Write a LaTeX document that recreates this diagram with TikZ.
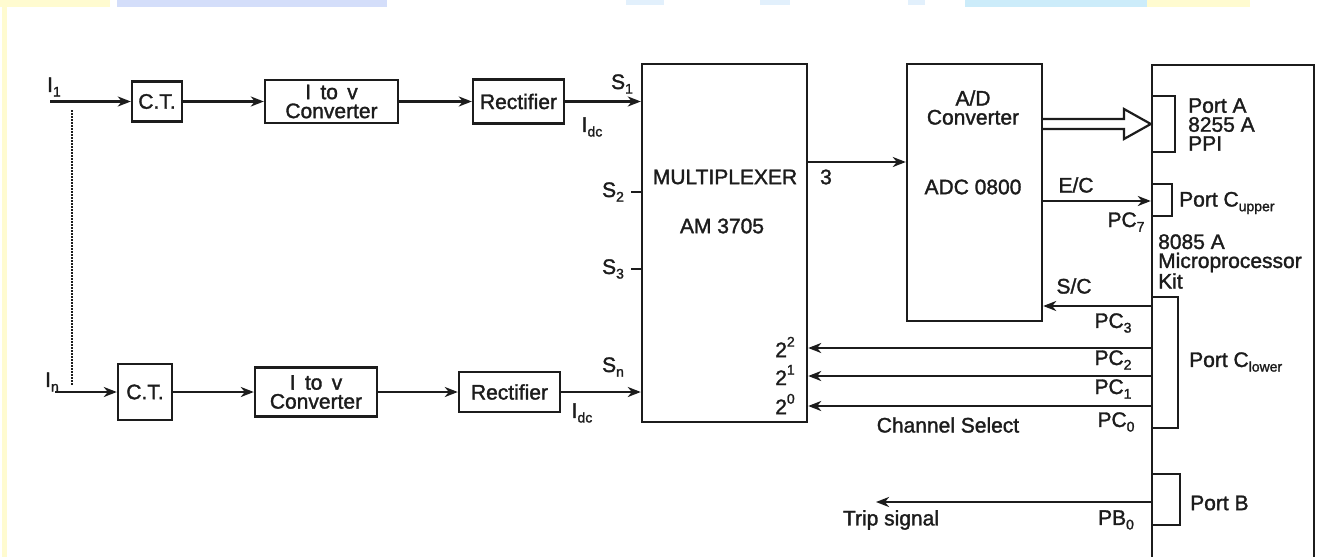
\documentclass[tikz,border=0pt]{standalone}
\usepackage{fontspec}
\setmainfont{Liberation Sans}[FakeBold=1.5]
\usetikzlibrary{arrows.meta}
\newcommand\lsub[1]{\raisebox{-0.22em}{\fontsize{14}{14}\selectfont #1}}
\newcommand\lsup[1]{\raisebox{0.5em}{\fontsize{14}{14}\selectfont #1}}
\definecolor{ink}{RGB}{28,28,28}
\definecolor{bandY}{RGB}{255,251,208}
\definecolor{bandB}{RGB}{212,222,250}
\definecolor{bandC}{RGB}{204,236,250}
\definecolor{bandL}{RGB}{226,240,252}
\tikzset{
  every node/.style={font=\fontsize{21}{19}\selectfont, text=ink, inner sep=0pt},
  blk/.style={draw=ink, line width=2.4pt, align=center},
  lbl/.style={align=left, anchor=west},
  arr/.style={draw=ink, line width=2.6pt, -{Stealth[length=13pt,width=10pt,inset=4pt]}},
  wire/.style={draw=ink, line width=2.4pt},
  brk/.style={draw=ink, line width=2.4pt},
}
\begin{document}
\begin{tikzpicture}[x=1pt,y=-1pt]
\useasboundingbox (0,0) rectangle (1318,557);
\fill[white] (0,0) rectangle (1318,557);
% decorative page band
\fill[bandY] (0,0) rectangle (110,7);
\fill[bandB] (117,0) rectangle (387,7);
\fill[bandL] (626,0) rectangle (664,5);
\fill[bandL] (760,0) rectangle (790,5);
\fill[bandL] (908,0) rectangle (925,5);
\fill[bandC] (965,0) rectangle (1147,7);
\fill[bandY] (1147,0) rectangle (1250,7);
\fill[bandY] (2,0) rectangle (7,557);

% ---- blocks ----
\node[blk, minimum width=50, minimum height=40] (ct1) at (157,101.5) {C.T.};
\node[blk, minimum width=133, minimum height=43] (iv1) at (331.5,101.5) {I\, to\, v\\Converter};
\node[blk, minimum width=91, minimum height=44] (rec1) at (518.5,101.5) {Rectifier};
\node[blk, minimum width=54, minimum height=56] (ct2) at (145,392) {C.T.};
\node[blk, minimum width=122, minimum height=49] (iv2) at (316,392) {I\, to\, v\\Converter};
\node[blk, minimum width=101, minimum height=40] (rec2) at (509.5,392) {Rectifier};
\node[blk, minimum width=165, minimum height=358] (mux) at (724.5,243) {};
\node[blk, minimum width=135, minimum height=257] (adc) at (974.5,192.5) {};
\node[blk, minimum width=162, minimum height=500] (micro) at (1233,315) {};

% ---- texts inside blocks ----
\node (muxA) at (725,177) {MULTIPLEXER};
\node (muxB) at (722,226) {AM 3705};
\node[align=center] (adcA) at (973,107.5) {A/D\\Converter};
\node (adcB) at (973,187) {ADC 0800};
\node[lbl] (portA) at (1188,124.5) {Port A\\8255 A\\PPI};
\node[lbl] (portCu) at (1179,203) {Port C\lsub{upper}};
\node[lbl] (kit) at (1158,261.5) {8085 A\\Microprocessor\\Kit};
\node[lbl] (portCl) at (1189,362) {Port C\lsub{lower}};
\node[lbl] (portB) at (1190,503) {Port B};

% ---- free-end coordinates ----
\coordinate (in1) at (50,101.5);
\coordinate (inn) at (55,392);
\coordinate (dotT) at (72,110);
\coordinate (dotB) at (72,385);
\coordinate (trip) at (876,502);
\coordinate (yS2) at (0,192);
\coordinate (yS3) at (0,269);
\coordinate (y3) at (0,162);
\coordinate (yEC) at (0,201);
\coordinate (ySC) at (0,306);
\coordinate (yP2) at (0,348);
\coordinate (yP1) at (0,376);
\coordinate (yP0) at (0,406);
\coordinate (yPB) at (0,502);
\coordinate (hA1) at (0,119);
\coordinate (hA2) at (0,129);

% ---- channel rows ----
\draw[arr] (in1) -- (ct1.west);
\draw[arr] (ct1.east) -- (ct1.east -| iv1.west);
\draw[arr] (iv1.east) -- (iv1.east -| rec1.west);
\draw[arr] (rec1.east) -- (rec1.east -| mux.west);
\draw[arr] (inn) -- (ct2.west);
\draw[arr] (ct2.east) -- (ct2.east -| iv2.west);
\draw[arr] (iv2.east) -- (iv2.east -| rec2.west);
\draw[arr] (rec2.east) -- (rec2.east -| mux.west);
\draw[ink, line width=1.8pt, dash pattern=on 1.6pt off 1.4pt] (dotT) -- (dotB);

% ---- labels of rows ----
\node (lI1) at (54,87) {I\lsub{1}};
\node (lIn) at (52,382) {I\lsub{n}};
\node (lS1) at (622,84) {S\lsub{1}};
\node (lIdc1) at (592,127) {I\lsub{dc}};
\node (lS2) at (613,192) {S\lsub{2}};
\node (lS3) at (613,269) {S\lsub{3}};
\node (lSn) at (613,367) {S\lsub{n}};
\node (lIdc2) at (582,413) {I\lsub{dc}};
\draw[wire] (mux.west |- yS2) -- ++(-10,0);
\draw[wire] (mux.west |- yS3) -- ++(-10,0);

% ---- mux to adc ----
\draw[arr] (mux.east |- y3) -- (adc.west |- y3);
\node (l3) at (826,177) {3};

% ---- hollow data arrow ----
\draw[ink, line width=2.2pt, line join=miter] (adc.east |- hA1) -- (1124,119) -- (1124,109) -- (micro.west |- 0,124) -- (1124,139) -- (1124,129) -- (adc.east |- hA2);

% ---- port brackets ----
\draw[brk] (1152,96) -- (1175,96) -- (1175,152) -- (1152,152);
\draw[brk] (1152,184) -- (1172,184) -- (1172,216) -- (1152,216);
\draw[brk] (1152,297) -- (1178,297) -- (1178,428) -- (1152,428);
\draw[brk] (1152,474) -- (1180,474) -- (1180,525) -- (1152,525);

% ---- control lines ----
\draw[arr] (adc.east |- yEC) -- (micro.west |- yEC);
\node (lEC) at (1076,185) {E/C};
\node (lPC7) at (1126,222) {PC\lsub{7}};
\draw[arr] (micro.west |- ySC) -- (adc.east |- ySC);
\node (lSC) at (1074,286) {S/C};
\node (lPC3) at (1113,323) {PC\lsub{3}};
\draw[arr] (micro.west |- yP2) -- (mux.east |- yP2);
\draw[arr] (micro.west |- yP1) -- (mux.east |- yP1);
\draw[arr] (micro.west |- yP0) -- (mux.east |- yP0);
\node (lPC2) at (1113,360) {PC\lsub{2}};
\node (lPC1) at (1113,389) {PC\lsub{1}};
\node (lPC0) at (1116,422) {PC\lsub{0}};
\node (l22) at (785,347) {2\lsup{2}};
\node (l21) at (785,375) {2\lsup{1}};
\node (l20) at (785,404) {2\lsup{0}};
\node (lCS) at (948,425) {Channel Select};
\draw[arr] (micro.west |- yPB) -- (trip);
\node (lTrip) at (891,520) {Trip signal};
\node (lPB0) at (1116,520) {PB\lsub{0}};
\end{tikzpicture}
\end{document}
